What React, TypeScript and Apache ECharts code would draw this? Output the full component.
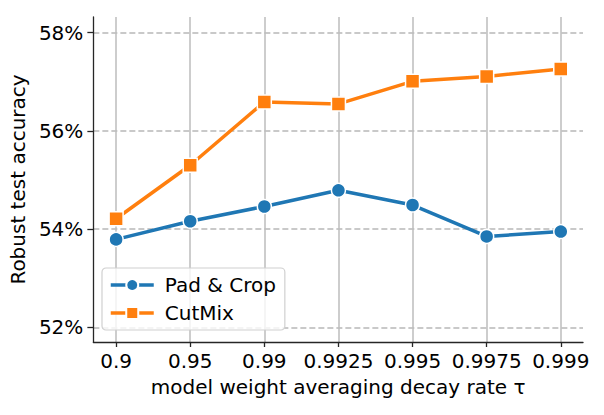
import React, { useEffect, useRef } from "react";
import * as echarts from "echarts";

const categories = ["0.9", "0.95", "0.99", "0.9925", "0.995", "0.9975", "0.999"];
const padCrop = [53.79, 54.16, 54.46, 54.79, 54.49, 53.85, 53.95];
const cutMix = [54.21, 55.3, 56.59, 56.55, 57.01, 57.11, 57.26];
const yTicks = [52, 54, 56, 58];
const xTicks = [0, 1, 2, 3, 4, 5, 6];

const FONT = "DejaVu Sans";
const FS = 20;

export default function App() {
  const ref = useRef<HTMLDivElement>(null);
  useEffect(() => {
    if (!ref.current) return;
    const chart = echarts.init(ref.current, null, { renderer: "svg" });
    const toPairs = (arr: number[]) => arr.map((v, i) => [i, v]);
    chart.setOption({
      animation: false,
      backgroundColor: "#ffffff",
      textStyle: { fontFamily: FONT },
      grid: { left: 93, right: 21, top: 17, bottom: 73, containLabel: false },
      legend: {
        orient: "vertical",
        left: 102,
        top: 268,
        padding: [7, 9, 7, 7],
        itemGap: 8,
        itemWidth: 43,
        itemHeight: 15,
        backgroundColor: "rgba(255,255,255,0.8)",
        borderColor: "#d0d0d0",
        borderWidth: 1.2,
        borderRadius: 4,
        lineStyle: { width: 3.5 },
        textStyle: { fontFamily: FONT, fontSize: FS, color: "#000", padding: [0, 0, 0, 6] },
        data: ["Pad & Crop", "CutMix"],
      },
      xAxis: {
        type: "value",
        min: -0.307,
        max: 6.3,
        axisLine: { show: true, onZero: false, lineStyle: { color: "#262626", width: 1.3 } },
        axisTick: {
          show: true,
          length: 5,
          customValues: xTicks,
          lineStyle: { color: "#262626", width: 1.3 },
        },
        axisLabel: {
          customValues: xTicks,
          formatter: (v: number) => categories[Math.round(v)] ?? "",
          fontFamily: FONT,
          fontSize: FS,
          color: "#000",
          margin: 9,
        },
        splitLine: { show: true, lineStyle: { color: "#bdbdbd", width: 1.5 } },
        name: "model weight averaging decay rate τ",
        nameLocation: "middle",
        nameGap: 35,
        nameTextStyle: { fontFamily: FONT, fontSize: FS, color: "#000" },
      },
      yAxis: {
        type: "value",
        min: 51.7,
        max: 58.32,
        axisLine: { show: true, onZero: false, lineStyle: { color: "#262626", width: 1.3 } },
        axisTick: {
          show: true,
          length: 6,
          customValues: yTicks,
          lineStyle: { color: "#262626", width: 1.3 },
        },
        axisLabel: {
          customValues: yTicks,
          formatter: (v: number) => `${Math.round(v)}%`,
          fontFamily: FONT,
          fontSize: FS,
          color: "#000",
          margin: 10,
        },
        splitLine: {
          show: true,
          lineStyle: { color: "#b8b8b8", width: 1.5, type: [6, 3] },
        },
        name: "Robust test accuracy",
        nameLocation: "middle",
        nameGap: 56,
        nameTextStyle: { fontFamily: FONT, fontSize: FS, color: "#000" },
      },
      series: [
        {
          name: "Pad & Crop",
          type: "line",
          data: toPairs(padCrop),
          symbol: "circle",
          symbolSize: 14,
          lineStyle: { color: "#1f77b4", width: 3.5 },
          itemStyle: { color: "#1f77b4", borderColor: "#ffffff", borderWidth: 1.5 },
          z: 3,
        },
        {
          name: "CutMix",
          type: "line",
          data: toPairs(cutMix),
          symbol: "rect",
          symbolSize: 14,
          lineStyle: { color: "#ff7f0e", width: 3.5 },
          itemStyle: { color: "#ff7f0e", borderColor: "#ffffff", borderWidth: 1.5 },
          z: 4,
        },
      ],
    });
    return () => chart.dispose();
  }, []);
  return <div ref={ref} style={{ width: 604, height: 415, margin: -8 }} />;
}
